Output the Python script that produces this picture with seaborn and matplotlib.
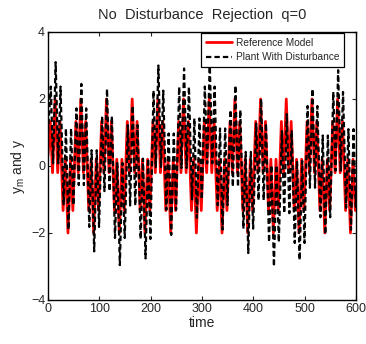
import numpy as np
import pandas as pd
import matplotlib
matplotlib.use("Agg")
import matplotlib.pyplot as plt
import seaborn as sns

# turning points (time, value)
ref_time = [0,
            4.5, 9, 14, 19, 23.5, 29.5, 34, 39, 44, 48.5,
            54.5, 59, 64, 69, 73.5, 79.5, 84, 89, 94, 98.5,
            104.5, 109, 114, 119, 123.5, 129.5, 134, 139, 144, 148.5,
            154.5, 159, 164, 169, 173.5, 179.5, 184, 189, 194, 198.5,
            204.5, 209, 214, 219, 223.5, 229.5, 234, 239, 244, 248.5,
            254.5, 259, 264, 269, 273.5, 279.5, 284, 289, 294, 298.5,
            304.5, 309, 314, 319, 323.5, 329.5, 334, 339, 344, 348.5,
            354.5, 359, 364, 369, 373.5, 379.5, 384, 389, 394, 398.5,
            404.5, 409, 414, 419, 423.5, 429.5, 434, 439, 444, 448.5,
            454.5, 459, 464, 469, 473.5, 479.5, 484, 489, 494, 498.5,
            504.5, 509, 514, 519, 523.5, 529.5, 534, 539, 544, 548.5,
            554.5, 559, 564, 569, 573.5, 579.5, 584, 589, 594, 598.5,
            600]
ref_y = [0.3,
         1.33, -0.2, 2.0, -0.2, 1.33, -1.33, 0.2, -2.0, 0.2, -1.33,
         1.33, -0.2, 2.0, -0.2, 1.33, -1.33, 0.2, -2.0, 0.2, -1.33,
         1.33, -0.2, 2.0, -0.2, 1.33, -1.33, 0.2, -2.0, 0.2, -1.33,
         1.33, -0.2, 2.0, -0.2, 1.33, -1.33, 0.2, -2.0, 0.2, -1.33,
         1.33, -0.2, 2.0, -0.2, 1.33, -1.33, 0.2, -2.0, 0.2, -1.33,
         1.33, -0.2, 2.0, -0.2, 1.33, -1.33, 0.2, -2.0, 0.2, -1.33,
         1.33, -0.2, 2.0, -0.2, 1.33, -1.33, 0.2, -2.0, 0.2, -1.33,
         1.33, -0.2, 2.0, -0.2, 1.33, -1.33, 0.2, -2.0, 0.2, -1.33,
         1.33, -0.2, 2.0, -0.2, 1.33, -1.33, 0.2, -2.0, 0.2, -1.33,
         1.33, -0.2, 2.0, -0.2, 1.33, -1.33, 0.2, -2.0, 0.2, -1.33,
         1.33, -0.2, 2.0, -0.2, 1.33, -1.33, 0.2, -2.0, 0.2, -1.33,
         1.33, -0.2, 2.0, -0.2, 1.33, -1.33, 0.2, -2.0, 0.2, -1.33,
         -0.9]

plant_time = [0,
              5.5, 10, 15, 20, 24.5, 30.5, 35, 40, 45, 49.5,
              55.5, 60, 65, 70, 74.5, 80.5, 85, 90, 95, 99.5,
              105.5, 110, 115, 120, 124.5, 130.5, 135, 140, 145, 149.5,
              155.5, 160, 165, 170, 174.5, 180.5, 185, 190, 195, 199.5,
              205.5, 210, 215, 220, 224.5, 230.5, 235, 240, 245, 249.5,
              255.5, 260, 265, 270, 274.5, 280.5, 285, 290, 295, 299.5,
              305.5, 310, 315, 320, 324.5, 330.5, 335, 340, 345, 349.5,
              355.5, 360, 365, 370, 374.5, 380.5, 385, 390, 395, 399.5,
              405.5, 410, 415, 420, 424.5, 430.5, 435, 440, 445, 449.5,
              455.5, 460, 465, 470, 474.5, 480.5, 485, 490, 495, 499.5,
              505.5, 510, 515, 520, 524.5, 530.5, 535, 540, 545, 549.5,
              555.5, 560, 565, 570, 574.5, 580.5, 585, 590, 595, 599.5,
              600]
plant_y = [1.0,
           2.37, 0.08, 3.1, 0.08, 2.37, -1.17, 1.12, -1.9, 1.12, -1.17,
           1.72, -0.57, 2.45, -0.57, 1.72, -1.82, 0.47, -2.55, 0.47, -1.82,
           1.49, -0.75, 2.3, -0.75, 1.49, -2.15, 0.09, -2.96, 0.09, -2.15,
           1.22, -1.18, 1.8, -1.18, 1.22, -2.18, 0.22, -2.76, 0.22, -2.18,
           2.25, -0.03, 3.0, -0.03, 2.25, -1.31, 0.97, -2.06, 0.97, -1.31,
           2.36, -0.06, 2.91, -0.06, 2.36, -1.0, 1.42, -1.55, 1.42, -1.0,
           2.37, 0.08, 3.1, 0.08, 2.37, -1.17, 1.12, -1.9, 1.12, -1.17,
           1.67, -0.62, 2.4, -0.62, 1.67, -1.87, 0.42, -2.6, 0.42, -1.87,
           1.27, -1.02, 2.0, -1.02, 1.27, -2.27, 0.02, -3.0, 0.02, -2.27,
           1.04, -1.41, 1.55, -1.41, 1.04, -2.3, 0.15, -2.81, 0.15, -2.3,
           1.79, -0.65, 2.3, -0.65, 1.79, -1.53, 0.91, -2.04, 0.91, -1.53,
           2.21, -0.14, 2.86, -0.14, 2.21, -1.25, 1.1, -1.9, 1.1, -1.25,
           -0.6]

sns.set_style("ticks")
plt.rcParams['font.family'] = ['Liberation Sans', 'DejaVu Sans']
plt.rcParams['mathtext.fontset'] = 'custom'
plt.rcParams['mathtext.rm'] = 'Liberation Sans'
plt.rcParams['mathtext.it'] = 'Liberation Sans'

ref_df = pd.DataFrame({'time': ref_time, 'y': ref_y})
plant_df = pd.DataFrame({'time': plant_time, 'y': plant_y})

fig = plt.figure(figsize=(3.66, 3.44), dpi=100)
ax = fig.add_axes([0.131, 0.128, 0.842, 0.779])

sns.lineplot(data=ref_df, x='time', y='y', ax=ax, color='#ff0000', linewidth=2.0,
             sort=False, estimator=None, label='Reference Model')
sns.lineplot(data=plant_df, x='time', y='y', ax=ax, color='black', linewidth=1.6,
             sort=False, estimator=None, label='Plant With Disturbance')
ax.lines[1].set_dashes([2.4, 1.4])

ax.set_xlim(0, 600)
ax.set_ylim(-4, 4)
ax.set_xticks([0, 100, 200, 300, 400, 500, 600])
ax.set_yticks([-4, -2, 0, 2, 4])
ax.tick_params(direction='in', top=True, right=True, labelsize=9, length=3, width=0.8, pad=2)
for s in ax.spines.values():
    s.set_linewidth(1.0)
    s.set_color('black')

ax.set_title('No  Disturbance  Rejection  q=0', fontsize=10.5, pad=9)
ax.set_xlabel('time', fontsize=10, labelpad=1)
ax.set_ylabel(r'y$_\mathregular{m}$ and y', fontsize=10, labelpad=3)

leg = ax.legend(loc='upper right', bbox_to_anchor=(0.961, 0.996), borderaxespad=0,
                fontsize=7.3, frameon=True, fancybox=False, handlelength=2.6,
                handletextpad=0.4, borderpad=0.45, labelspacing=0.45)
leg.get_frame().set_edgecolor('black')
leg.get_frame().set_linewidth(0.9)
leg.get_frame().set_alpha(1)
leg.get_lines()[1].set_dashes([2.4, 1.4])

fig.savefig('out.png', dpi=100)
